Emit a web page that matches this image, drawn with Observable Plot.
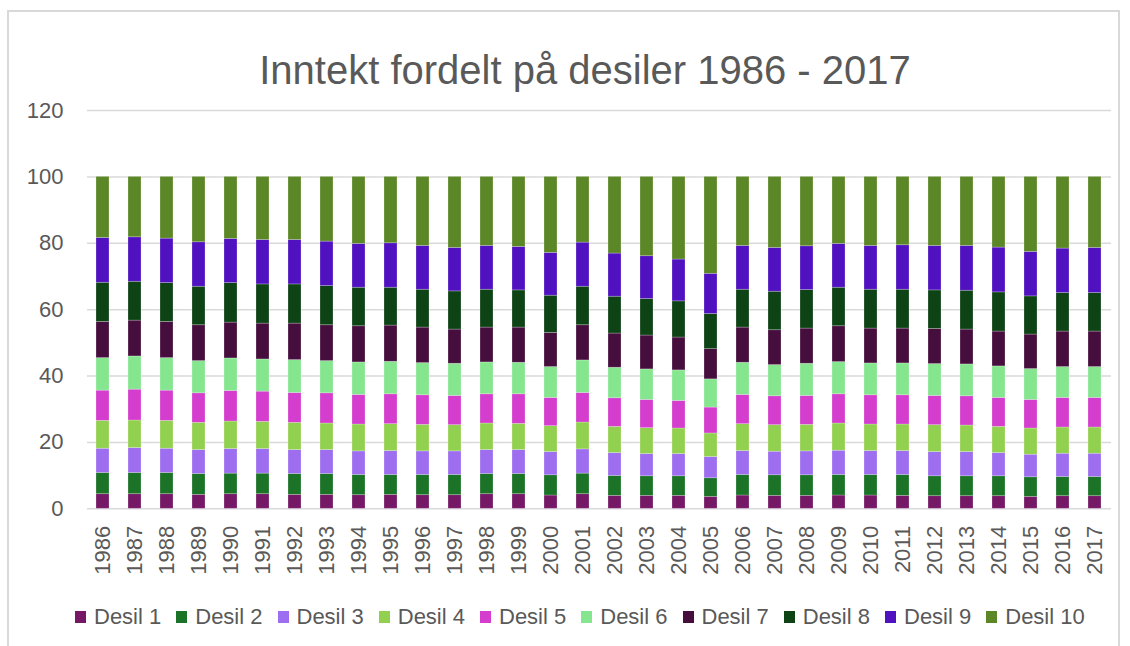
<!DOCTYPE html>
<html>
<head>
<meta charset="utf-8">
<script src="https://cdn.jsdelivr.net/npm/d3@7"></script>
<script src="https://cdn.jsdelivr.net/npm/@observablehq/plot@0.6"></script>
<style>
  html, body { margin: 0; padding: 0; background: #fff; }
  #wrap { position: relative; width: 1130px; height: 646px; overflow: hidden; font-family: "Liberation Sans", Arial, sans-serif; color: #595959; }
  #frame { position: absolute; left: 7px; top: 10px; width: 1113px; height: 640px; border: 2px solid #d9d9d9; box-sizing: border-box; }
  #title { position: absolute; left: 0; top: 50px; width: 1170px; text-align: center; font-size: 40px; line-height: 40px; white-space: nowrap; }
  #chart { position: absolute; left: 0; top: 95px; }
  #legend { position: absolute; left: 75px; top: 606px; display: flex; align-items: center; font-size: 22px; line-height: 22px; white-space: nowrap; }
  .item { display: flex; align-items: center; margin-right: 15px; }
  .sw { width: 11px; height: 12px; margin-right: 8px; }
</style>
</head>
<body>
<div id="wrap">
  <div id="frame"></div>
  <div id="title">Inntekt fordelt på desiler 1986 - 2017</div>
  <div id="chart"></div>
  <div id="legend"></div>
</div>
<script>
const years = ["1986","1987","1988","1989","1990","1991","1992","1993","1994","1995","1996","1997","1998","1999","2000","2001","2002","2003","2004","2005","2006","2007","2008","2009","2010","2011","2012","2013","2014","2015","2016","2017"];
const deciles = ["Desil 1","Desil 2","Desil 3","Desil 4","Desil 5","Desil 6","Desil 7","Desil 8","Desil 9","Desil 10"];
const colors = ["#751967","#1a7326","#9d6ef0","#92d050","#d43dcd","#85e68f","#460e3d","#0d4315","#5012c0","#5b8727"];
const yTicks = [0, 20, 40, 60, 80, 100, 120];

const desil1 = [4.4,4.4,4.4,4.2,4.4,4.4,4.2,4.2,4.1,4.2,4.1,4.1,4.4,4.4,4.0,4.4,3.9,3.9,3.9,3.6,4.0,3.9,3.9,4.0,4.0,3.9,3.8,3.8,3.8,3.6,3.8,3.8];
const desil2 = [6.4,6.4,6.4,6.3,6.2,6.2,6.3,6.3,6.1,6.0,6.1,6.1,6.1,6.1,6.1,6.2,6.0,5.9,5.9,5.6,6.2,6.2,6.2,6.2,6.2,6.3,6.0,6.0,6.0,5.9,5.8,5.8];
const desil3 = [7.3,7.5,7.3,7.2,7.4,7.4,7.2,7.2,7.1,7.2,7.1,7.1,7.2,7.2,7.0,7.3,6.9,6.7,6.7,6.4,7.2,7.1,7.2,7.3,7.2,7.2,7.3,7.3,7.0,6.8,7.0,7.0];
const desil4 = [8.4,8.3,8.4,8.2,8.3,8.2,8.2,8.0,8.1,8.1,8.0,7.9,8.0,7.9,7.8,8.1,7.9,7.8,7.7,7.1,8.1,8.0,8.0,8.2,8.0,8.0,8.1,8.0,7.9,7.9,7.9,7.9];
const desil5 = [9.1,9.3,9.1,8.9,9.2,9.1,9.0,9.1,8.9,9.0,8.9,8.8,8.8,8.9,8.5,8.9,8.6,8.5,8.3,7.8,8.8,8.7,8.7,8.8,8.8,8.8,8.8,8.8,8.7,8.6,8.9,8.9];
const desil6 = [9.8,10.0,9.8,9.7,9.8,9.7,9.9,9.7,9.8,9.8,9.7,9.7,9.6,9.5,9.3,9.8,9.2,9.2,9.2,8.5,9.7,9.4,9.7,9.7,9.6,9.6,9.6,9.6,9.5,9.3,9.3,9.3];
const desil7 = [10.9,10.8,10.9,10.8,10.8,10.8,11.0,10.8,10.9,10.9,10.7,10.3,10.5,10.6,10.3,10.6,10.3,10.2,9.9,9.1,10.6,10.5,10.6,10.8,10.5,10.5,10.6,10.5,10.5,10.4,10.7,10.7];
const desil8 = [11.8,11.7,11.7,11.6,11.9,11.8,11.8,11.8,11.6,11.4,11.4,11.5,11.4,11.2,11.2,11.6,11.1,11.0,10.9,10.6,11.4,11.6,11.6,11.6,11.7,11.7,11.6,11.7,11.8,11.5,11.6,11.6];
const desil9 = [13.5,13.4,13.4,13.4,13.3,13.4,13.4,13.4,13.2,13.4,13.2,13.1,13.2,13.1,12.9,13.3,13.0,12.9,12.6,12.1,13.2,13.2,13.2,13.2,13.2,13.4,13.4,13.5,13.5,13.4,13.4,13.6];
const desil10 = [18.4,18.2,18.6,19.7,18.7,19.0,19.0,19.5,20.2,20.0,20.8,21.4,20.8,21.1,22.9,19.8,23.1,23.9,24.9,29.2,20.8,21.4,20.9,20.2,20.8,20.6,20.8,20.8,21.3,22.6,21.6,21.4];

const series = [desil1, desil2, desil3, desil4, desil5, desil6, desil7, desil8, desil9, desil10];
const data = [];
years.forEach((yr, i) => {
  deciles.forEach((d, k) => data.push({year: yr, decile: d, value: series[k][i]}));
});

const chart = Plot.plot({
  width: 1130,
  height: 510,
  marginTop: 15,
  marginBottom: 96.7,
  marginLeft: 87,
  marginRight: 19,
  style: { fontFamily: "Liberation Sans, Arial, sans-serif", fontSize: "22px", color: "#595959", background: "transparent", overflow: "visible" },
  x: { domain: years, paddingInner: 0.59, paddingOuter: 0.295, label: null },
  y: { domain: [0, 120], label: null },
  color: { domain: deciles, range: colors },
  marks: [
    Plot.gridY(yTicks, { stroke: "#d9d9d9", strokeOpacity: 1, strokeWidth: 1.5 }),
    Plot.barY(data, { x: "year", y: "value", fill: "decile", stroke: "#ffffff", strokeOpacity: 0.3, strokeWidth: 0.75 }),
    Plot.axisY({ ticks: yTicks, tickSize: 0, tickPadding: 24, label: null }),
    Plot.axisX({ tickRotate: -90, tickSize: 0, tickPadding: 17, label: null })
  ]
});
document.getElementById("chart").appendChild(chart);

const legend = document.getElementById("legend");
deciles.forEach((d, k) => {
  const it = document.createElement("div");
  it.className = "item";
  const sw = document.createElement("div");
  sw.className = "sw";
  sw.style.background = colors[k];
  const tx = document.createElement("span");
  tx.textContent = d;
  it.appendChild(sw);
  it.appendChild(tx);
  legend.appendChild(it);
});
</script>
</body>
</html>
